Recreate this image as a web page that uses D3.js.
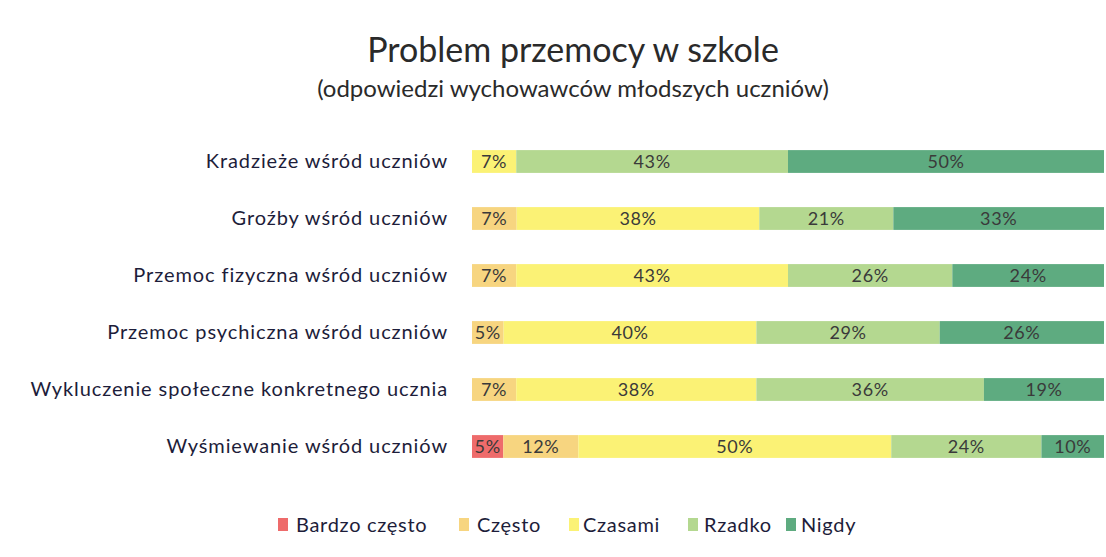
<!DOCTYPE html>
<html><head><meta charset="utf-8">
<script src="https://cdn.jsdelivr.net/npm/d3@7"></script>
<style>html,body{margin:0;padding:0;background:#fff;}</style>
</head><body>
<svg id="c" width="1106" height="557"></svg>
<script>
const categories = ["Kradzieże wśród uczniów","Groźby wśród uczniów","Przemoc fizyczna wśród uczniów","Przemoc psychiczna wśród uczniów","Wykluczenie społeczne konkretnego ucznia","Wyśmiewanie wśród uczniów"];
const seriesNames = ["Bardzo często","Często","Czasami","Rzadko","Nigdy"];
const bardzoCzesto = [0,0,0,0,0,5];
const czesto       = [0,7,7,5,7,12];
const czasami      = [7,38,43,40,38,50];
const rzadko       = [43,21,26,29,36,24];
const nigdy        = [50,33,24,26,19,10];
const colors = ["#ee6b6b","#f7d580","#fbf275","#b4d890","#5eab80"];

const seriesVals = [bardzoCzesto,czesto,czasami,rzadko,nigdy];
const rows = categories.map((c,i)=>{const r={cat:c}; seriesNames.forEach((s,k)=>r[s]=seriesVals[k][i]); return r;});
const stack = d3.stack().keys(seriesNames).offset(d3.stackOffsetExpand)(rows);

const svg = d3.select("#c");
const font = "Lato, 'Open Sans', sans-serif";
const x = d3.scaleLinear().domain([0,1]).range([472,1104]);
const y = d3.scaleBand().domain(categories).range([133,475]).paddingInner(0.6).paddingOuter(0.3);

svg.append("text").attr("x",573).attr("y",62).attr("text-anchor","middle")
  .attr("font-family",font).attr("font-size",34).attr("fill","#2a2a2a").text("Problem przemocy w szkole");
svg.append("text").attr("x",573).attr("y",97).attr("text-anchor","middle")
  .attr("font-family",font).attr("font-size",24).attr("fill","#2a2a2a").text("(odpowiedzi wychowawców młodszych uczniów)");

const g = svg.append("g");
stack.forEach((s,k)=>{
  const sg = g.append("g").attr("fill",colors[k]);
  sg.selectAll("rect").data(s).join("rect")
    .attr("x",d=>x(d[0])).attr("width",d=>x(d[1])-x(d[0]))
    .attr("y",d=>y(d.data.cat)).attr("height",y.bandwidth());
  g.append("g").selectAll("text").data(s.filter(d=>d.data[s.key]>0)).join("text")
    .attr("x",d=>(x(d[0])+x(d[1]))/2).attr("y",d=>y(d.data.cat)+y.bandwidth()/2+6.5)
    .attr("text-anchor","middle").attr("font-family",font).attr("font-size",18)
    .attr("letter-spacing",0.6).attr("fill","#3a3a3a")
    .text(d=>d.data[s.key]+"%");
});

const yAxis = svg.append("g").attr("transform","translate(448,0)").call(d3.axisLeft(y).tickSize(0).tickPadding(0));
yAxis.select(".domain").remove();
yAxis.selectAll("text").attr("font-family",font).attr("font-size",20).attr("letter-spacing",0.9).attr("fill","#1d1d3a");

const legendSq = [278,459,569,688,786];
const legendTx = [296,477,583,704,801];
const lg = svg.append("g");
seriesNames.forEach((s,k)=>{
  lg.append("rect").attr("x",legendSq[k]).attr("y",518).attr("width",10).attr("height",13).attr("fill",colors[k]);
  lg.append("text").attr("x",legendTx[k]).attr("y",532).attr("font-family",font).attr("font-size",20)
    .attr("letter-spacing",0.7).attr("fill","#1d1d3a").text(s);
});
</script>
</body></html>
